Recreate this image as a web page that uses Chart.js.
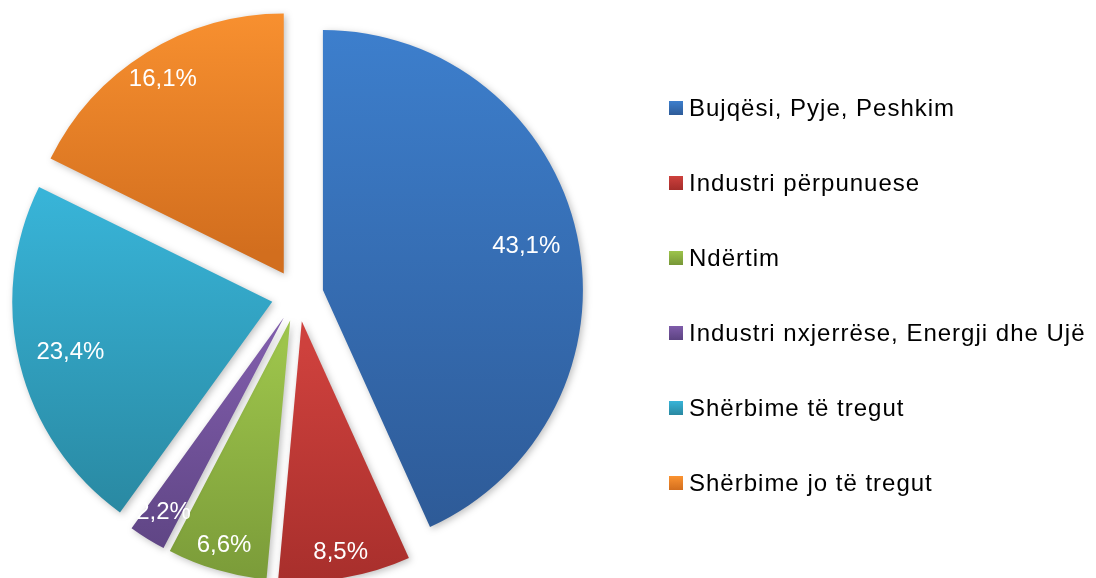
<!DOCTYPE html>
<html>
<head>
<meta charset="utf-8">
<script src="https://cdn.jsdelivr.net/npm/chart.js@4"></script>
<style>
  html, body { margin: 0; padding: 0; background: #fff; overflow: hidden; }
  #wrap { position: relative; width: 1096px; height: 578px; }
  #legend { position: absolute; left: 669px; top: 0; font-family: "Liberation Sans", Arial, sans-serif; font-size: 24px; letter-spacing: 1px; color: #000; }
  .item { position: absolute; left: 0; display: flex; align-items: center; white-space: nowrap; height: 30px; }
  .sw { width: 14px; height: 14px; margin-right: 6px; }
</style>
</head>
<body>
<div id="wrap">
  <canvas id="chartPie" width="1096" height="578"></canvas>
  <div id="legend"></div>
</div>
<script>
// sektorët (renditja si në grafik, në drejtim të orës nga lart)
const LABELS = [
  "Bujqësi, Pyje, Peshkim",
  "Industri përpunuese",
  "Ndërtim",
  "Industri nxjerrëse, Energji dhe Ujë",
  "Shërbime të tregut",
  "Shërbime jo të tregut",
];
// madhësia e fetave siç janë vizatuar (lexuar nga këndet)
const SHARES = [43.2, 8.2, 6.2, 2.3, 22.3, 17.7];
// përqindjet e shkruara mbi feta
const LABEL_PCT = ["43,1%", "8,5%", "6,6%", "2,2%", "23,4%", "16,1%"];

const COLOR_TOP = ["#3d7fcd", "#ce413d", "#9dc44b", "#7f5caa", "#38b4d8", "#fb9331"];
const COLOR_BOTTOM = ["#2e5b98", "#a42d2a", "#779737", "#5c4381", "#2988a1", "#d26e1e"];

const RADIUS = 260;
const EXPLODE = 26;
const LABEL_FRAC = [0.8, 0.9, 0.9, 0.88, 0.8, 0.88];
const TOTAL = SHARES.reduce((a, b) => a + b, 0);

function sliceAngles(i) {
  let start = 0;
  for (let j = 0; j < i; j++) start += SHARES[j];
  const a0 = (start / TOTAL) * Math.PI * 2 - Math.PI / 2;
  const a1 = ((start + SHARES[i]) / TOTAL) * Math.PI * 2 - Math.PI / 2;
  return [a0, a1];
}

function sliceGradient(c) {
  const i = c.dataIndex;
  const chart = c.chart;
  const area = chart.chartArea;
  if (!area) return COLOR_TOP[i];
  const [a0, a1] = sliceAngles(i);
  const mid = (a0 + a1) / 2;
  const cy = (area.top + area.bottom) / 2 + Math.sin(mid) * EXPLODE;
  let lo = cy, hi = cy;
  for (let k = 0; k <= 40; k++) {
    const y = cy + Math.sin(a0 + ((a1 - a0) * k) / 40) * RADIUS;
    lo = Math.min(lo, y);
    hi = Math.max(hi, y);
  }
  const g = chart.ctx.createLinearGradient(0, lo, 0, hi);
  g.addColorStop(0, COLOR_TOP[i]);
  g.addColorStop(1, COLOR_BOTTOM[i]);
  return g;
}

// chart.js e zhvendos harkun me offset/4, e zmadhon rrezen me offset/4 * fix
// dhe e ngushton pak këndin; këtu i kthejmë që të gjitha fetat të jenë njësoj
const radiusFix = {
  id: "radiusFix",
  afterDatasetUpdate(chart) {
    const meta = chart.getDatasetMeta(0);
    meta.data.forEach((arc) => {
      const fix = 1 - Math.sin(Math.min(Math.PI, arc.circumference));
      const extra = EXPLODE * fix;
      arc.outerRadius = RADIUS - extra;
      const shrink = extra / (2 * Math.PI * RADIUS);
      arc.startAngle -= shrink;
      arc.endAngle += shrink;
    });
  },
};

const shadowPlugin = {
  id: "shadow",
  beforeDatasetsDraw(chart) {
    const ctx = chart.ctx;
    ctx.save();
    ctx.shadowColor = "rgba(0,0,0,0.25)";
    ctx.shadowBlur = 7;
    ctx.shadowOffsetX = 2;
    ctx.shadowOffsetY = 2;
  },
  afterDatasetsDraw(chart) {
    chart.ctx.restore();
  },
};

const labelPlugin = {
  id: "sliceLabels",
  afterDatasetsDraw(chart) {
    const ctx = chart.ctx;
    const meta = chart.getDatasetMeta(0);
    ctx.save();
    ctx.fillStyle = "#fff";
    ctx.font = '24px "Liberation Sans", Arial, sans-serif';
    ctx.textAlign = "center";
    ctx.textBaseline = "middle";
    meta.data.forEach((arc, i) => {
      const mid = (arc.startAngle + arc.endAngle) / 2;
      const r = EXPLODE + LABEL_FRAC[i] * RADIUS;
      const x = arc.x + Math.cos(mid) * r;
      const y = arc.y + Math.sin(mid) * r;
      ctx.fillText(LABEL_PCT[i], x, y);
    });
    ctx.restore();
  },
};

new Chart(document.getElementById("chartPie"), {
  type: "pie",
  data: {
    labels: LABELS,
    datasets: [
      {
        data: SHARES,
        backgroundColor: sliceGradient,
        borderWidth: 0,
        offset: EXPLODE * 4,
        hoverOffset: 0,
        clip: false,
      },
    ],
  },
  options: {
    responsive: false,
    devicePixelRatio: 1,
    radius: RADIUS,
    animation: false,
    events: [],
    layout: { padding: { left: 0, right: 501, top: 13, bottom: 0 } },
    plugins: { legend: { display: false }, tooltip: { enabled: false } },
  },
  plugins: [radiusFix, shadowPlugin, labelPlugin],
});

const ROW_Y = [108, 183, 258, 333, 408, 483];
const legend = document.getElementById("legend");
LABELS.forEach((name, i) => {
  const item = document.createElement("div");
  item.className = "item";
  item.style.top = ROW_Y[i] - 15 + "px";
  const sw = document.createElement("span");
  sw.className = "sw";
  sw.style.background = `linear-gradient(${COLOR_TOP[i]}, ${COLOR_BOTTOM[i]})`;
  const txt = document.createElement("span");
  txt.textContent = name;
  item.appendChild(sw);
  item.appendChild(txt);
  legend.appendChild(item);
});
</script>
</body>
</html>
